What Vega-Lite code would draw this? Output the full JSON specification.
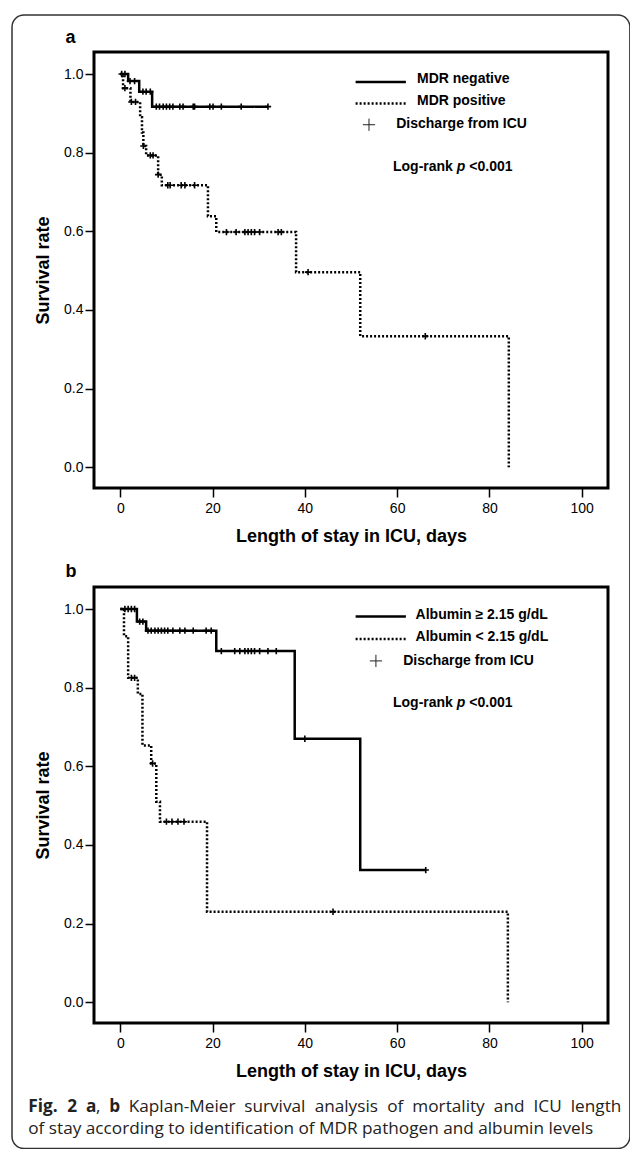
{
  "$schema": "https://vega.github.io/schema/vega-lite/v6.json",
  "padding": {"left": 9, "top": 12, "right": 1.5, "bottom": 0.5},
  "background": "white",
  "bounds": "flush",
  "spacing": 99,
  "config": {
    "view": {"stroke": "black", "strokeWidth": 3},
    "font": "Liberation Sans",
    "axis": {"domain": false, "grid": false, "tickColor": "black", "tickWidth": 1.5, "tickSize": 9, "labelColor": "black", "labelFont": "Liberation Sans", "labelFontSize": 14, "titleFont": "Liberation Sans", "titleFontSize": 18, "titleFontWeight": "bold", "titleColor": "black", "labelOverlap": false, "labelFlush": false},
    "axisX": {"labelPadding": 4, "titlePadding": 12},
    "axisY": {"labelPadding": 2, "titlePadding": 11}
  },
  "resolve": {"scale": {"x": "independent", "y": "independent", "strokeDash": "independent"}},
  "datasets": {
    "curves": [
      {"panel": "a", "series": "MDR negative", "x": 0, "y": 1},
      {"panel": "a", "series": "MDR negative", "x": 1.7, "y": 0.982},
      {"panel": "a", "series": "MDR negative", "x": 4.1, "y": 0.955},
      {"panel": "a", "series": "MDR negative", "x": 6.9, "y": 0.917},
      {"panel": "a", "series": "MDR negative", "x": 32.0, "y": 0.917},
      {"panel": "a", "series": "MDR positive", "x": 0, "y": 1},
      {"panel": "a", "series": "MDR positive", "x": 0.6, "y": 0.964},
      {"panel": "a", "series": "MDR positive", "x": 2.2, "y": 0.929},
      {"panel": "a", "series": "MDR positive", "x": 4.3, "y": 0.89},
      {"panel": "a", "series": "MDR positive", "x": 4.7, "y": 0.851},
      {"panel": "a", "series": "MDR positive", "x": 5.0, "y": 0.817},
      {"panel": "a", "series": "MDR positive", "x": 5.6, "y": 0.793},
      {"panel": "a", "series": "MDR positive", "x": 8.2, "y": 0.744},
      {"panel": "a", "series": "MDR positive", "x": 9.0, "y": 0.717},
      {"panel": "a", "series": "MDR positive", "x": 19.0, "y": 0.638},
      {"panel": "a", "series": "MDR positive", "x": 20.8, "y": 0.598},
      {"panel": "a", "series": "MDR positive", "x": 38.1, "y": 0.496},
      {"panel": "a", "series": "MDR positive", "x": 52.0, "y": 0.333},
      {"panel": "a", "series": "MDR positive", "x": 84.2, "y": 0.0},
      {"panel": "b", "series": "Albumin ≥ 2.15 g/dL", "x": 0, "y": 1},
      {"panel": "b", "series": "Albumin ≥ 2.15 g/dL", "x": 3.6, "y": 0.968},
      {"panel": "b", "series": "Albumin ≥ 2.15 g/dL", "x": 5.6, "y": 0.945},
      {"panel": "b", "series": "Albumin ≥ 2.15 g/dL", "x": 20.8, "y": 0.893},
      {"panel": "b", "series": "Albumin ≥ 2.15 g/dL", "x": 37.8, "y": 0.67},
      {"panel": "b", "series": "Albumin ≥ 2.15 g/dL", "x": 52.0, "y": 0.336},
      {"panel": "b", "series": "Albumin ≥ 2.15 g/dL", "x": 66.2, "y": 0.336},
      {"panel": "b", "series": "Albumin < 2.15 g/dL", "x": 0, "y": 1},
      {"panel": "b", "series": "Albumin < 2.15 g/dL", "x": 0.8, "y": 0.931},
      {"panel": "b", "series": "Albumin < 2.15 g/dL", "x": 1.7, "y": 0.825},
      {"panel": "b", "series": "Albumin < 2.15 g/dL", "x": 3.8, "y": 0.784},
      {"panel": "b", "series": "Albumin < 2.15 g/dL", "x": 4.8, "y": 0.653},
      {"panel": "b", "series": "Albumin < 2.15 g/dL", "x": 6.7, "y": 0.607},
      {"panel": "b", "series": "Albumin < 2.15 g/dL", "x": 7.8, "y": 0.51},
      {"panel": "b", "series": "Albumin < 2.15 g/dL", "x": 8.6, "y": 0.459},
      {"panel": "b", "series": "Albumin < 2.15 g/dL", "x": 18.8, "y": 0.23},
      {"panel": "b", "series": "Albumin < 2.15 g/dL", "x": 84.0, "y": 0.0}
    ],
    "censors": [
      {"panel": "a", "x": 0.3, "y": 1}, {"panel": "a", "x": 1.0, "y": 1},
      {"panel": "a", "x": 2.1, "y": 0.982}, {"panel": "a", "x": 3.1, "y": 0.982},
      {"panel": "a", "x": 4.9, "y": 0.955}, {"panel": "a", "x": 5.6, "y": 0.955}, {"panel": "a", "x": 6.5, "y": 0.955},
      {"panel": "a", "x": 7.8, "y": 0.917}, {"panel": "a", "x": 8.5, "y": 0.917}, {"panel": "a", "x": 9.3, "y": 0.917},
      {"panel": "a", "x": 10.0, "y": 0.917}, {"panel": "a", "x": 10.7, "y": 0.917}, {"panel": "a", "x": 11.4, "y": 0.917},
      {"panel": "a", "x": 12.9, "y": 0.917}, {"panel": "a", "x": 13.6, "y": 0.917}, {"panel": "a", "x": 15.8, "y": 0.917},
      {"panel": "a", "x": 16.1, "y": 0.917}, {"panel": "a", "x": 19.4, "y": 0.917}, {"panel": "a", "x": 20.1, "y": 0.917},
      {"panel": "a", "x": 21.9, "y": 0.917}, {"panel": "a", "x": 26.2, "y": 0.917}, {"panel": "a", "x": 32.0, "y": 0.917},
      {"panel": "a", "x": 1.0, "y": 0.964},
      {"panel": "a", "x": 2.4, "y": 0.929}, {"panel": "a", "x": 3.3, "y": 0.929},
      {"panel": "a", "x": 5.0, "y": 0.817},
      {"panel": "a", "x": 6.5, "y": 0.793}, {"panel": "a", "x": 7.1, "y": 0.793},
      {"panel": "a", "x": 8.2, "y": 0.744},
      {"panel": "a", "x": 10.3, "y": 0.717}, {"panel": "a", "x": 10.8, "y": 0.717}, {"panel": "a", "x": 13.2, "y": 0.717},
      {"panel": "a", "x": 14.0, "y": 0.717}, {"panel": "a", "x": 16.1, "y": 0.717},
      {"panel": "a", "x": 23.0, "y": 0.598}, {"panel": "a", "x": 25.1, "y": 0.598}, {"panel": "a", "x": 27.0, "y": 0.598},
      {"panel": "a", "x": 27.7, "y": 0.598}, {"panel": "a", "x": 28.4, "y": 0.598}, {"panel": "a", "x": 29.1, "y": 0.598},
      {"panel": "a", "x": 30.2, "y": 0.598}, {"panel": "a", "x": 34.2, "y": 0.598}, {"panel": "a", "x": 34.9, "y": 0.598},
      {"panel": "a", "x": 40.7, "y": 0.496},
      {"panel": "a", "x": 66.1, "y": 0.333},
      {"panel": "b", "x": 1.0, "y": 1}, {"panel": "b", "x": 1.7, "y": 1}, {"panel": "b", "x": 2.4, "y": 1}, {"panel": "b", "x": 3.1, "y": 1},
      {"panel": "b", "x": 4.2, "y": 0.968}, {"panel": "b", "x": 4.9, "y": 0.968},
      {"panel": "b", "x": 6.0, "y": 0.945}, {"panel": "b", "x": 6.7, "y": 0.945}, {"panel": "b", "x": 7.5, "y": 0.945},
      {"panel": "b", "x": 8.2, "y": 0.945}, {"panel": "b", "x": 8.9, "y": 0.945}, {"panel": "b", "x": 9.6, "y": 0.945},
      {"panel": "b", "x": 10.3, "y": 0.945}, {"panel": "b", "x": 11.4, "y": 0.945}, {"panel": "b", "x": 12.9, "y": 0.945},
      {"panel": "b", "x": 14.0, "y": 0.945}, {"panel": "b", "x": 15.8, "y": 0.945}, {"panel": "b", "x": 18.6, "y": 0.945},
      {"panel": "b", "x": 19.7, "y": 0.945},
      {"panel": "b", "x": 21.9, "y": 0.893}, {"panel": "b", "x": 24.8, "y": 0.893}, {"panel": "b", "x": 25.9, "y": 0.893},
      {"panel": "b", "x": 27.0, "y": 0.893}, {"panel": "b", "x": 27.7, "y": 0.893}, {"panel": "b", "x": 28.4, "y": 0.893},
      {"panel": "b", "x": 29.1, "y": 0.893}, {"panel": "b", "x": 30.2, "y": 0.893}, {"panel": "b", "x": 32.0, "y": 0.893},
      {"panel": "b", "x": 33.8, "y": 0.893},
      {"panel": "b", "x": 40.0, "y": 0.67},
      {"panel": "b", "x": 66.2, "y": 0.336},
      {"panel": "b", "x": 2.4, "y": 0.825}, {"panel": "b", "x": 3.1, "y": 0.825},
      {"panel": "b", "x": 7.0, "y": 0.607},
      {"panel": "b", "x": 10.0, "y": 0.459}, {"panel": "b", "x": 11.2, "y": 0.459}, {"panel": "b", "x": 12.5, "y": 0.459}, {"panel": "b", "x": 13.8, "y": 0.459},
      {"panel": "b", "x": 46.1, "y": 0.23}
    ],
    "legendLines": [
      {"panel": "a", "series": "MDR negative", "x": 51.0, "x2": 61.9, "y": 0.98},
      {"panel": "a", "series": "MDR positive", "x": 51.0, "x2": 61.9, "y": 0.925},
      {"panel": "b", "series": "Albumin ≥ 2.15 g/dL", "x": 51.0, "x2": 61.9, "y": 0.981},
      {"panel": "b", "series": "Albumin < 2.15 g/dL", "x": 51.0, "x2": 61.9, "y": 0.924}
    ],
    "legendLabels": [
      {"panel": "a", "label": "MDR negative", "x": 64.3, "y": 0.987},
      {"panel": "a", "label": "MDR positive", "x": 64.3, "y": 0.931},
      {"panel": "a", "label": "Discharge from ICU", "x": 59.8, "y": 0.873},
      {"panel": "a", "label": "Log-rank", "x": 59.1, "y": 0.763},
      {"panel": "a", "label": "<0.001", "x": 75.64, "y": 0.763},
      {"panel": "b", "label": "Albumin ≥ 2.15 g/dL", "x": 64.0, "y": 0.986},
      {"panel": "b", "label": "Albumin < 2.15 g/dL", "x": 64.0, "y": 0.929},
      {"panel": "b", "label": "Discharge from ICU", "x": 61.3, "y": 0.868},
      {"panel": "b", "label": "Log-rank", "x": 59.1, "y": 0.761},
      {"panel": "b", "label": "<0.001", "x": 75.64, "y": 0.761}
    ],
    "italicLabels": [
      {"panel": "a", "label": "p", "x": 72.93, "y": 0.763},
      {"panel": "b", "label": "p", "x": 72.93, "y": 0.761}
    ],
    "legendSymbol": [
      {"panel": "a", "x": 53.9, "y": 0.871},
      {"panel": "b", "x": 55.4, "y": 0.868}
    ],
    "panelLetters": [
      {"panel": "a", "label": "a", "x": -11.9, "y": 1.08},
      {"panel": "b", "label": "b", "x": -11.9, "y": 1.082}
    ]
  },
  "vconcat": [
    {
      "width": 514,
      "height": 436,
      "encoding": {
        "x": {"field": "x", "type": "quantitative", "scale": {"domain": [-5.7, 105.7], "nice": false, "zero": false}, "axis": {"values": [0, 20, 40, 60, 80, 100]}, "title": "Length of stay in ICU, days"},
        "y": {"field": "y", "type": "quantitative", "scale": {"domain": [-0.053, 1.056], "nice": false, "zero": false}, "axis": {"values": [0, 0.2, 0.4, 0.6, 0.8, 1.0], "format": ".1f"}, "title": "Survival rate"}
      },
      "layer": [
        {
          "data": {"values": [{"x": -23.47, "x2": 110.44, "y": 1.15, "y2": -1.733}]},
          "mark": {"type": "rect", "filled": false, "color": "#333333", "strokeWidth": 1.5, "cornerRadius": 12, "clip": false},
          "encoding": {"x2": {"field": "x2"}, "y2": {"field": "y2"}}
        },
        {
          "data": {"name": "curves"},
          "transform": [{"filter": "datum.panel === 'a'"}],
          "mark": {"type": "line", "interpolate": "step-after", "strokeWidth": 2.5, "color": "black", "strokeCap": "butt"},
          "encoding": {"strokeDash": {"field": "series", "type": "nominal", "scale": {"domain": ["MDR negative", "MDR positive"], "range": [[1, 0], [2, 2]]}, "legend": null}}
        },
        {
          "data": {"name": "censors"},
          "transform": [{"filter": "datum.panel === 'a'"}],
          "mark": {"type": "point", "shape": "M-1,0L1,0M0,-1L0,1", "size": 40, "filled": false, "strokeWidth": 1.6, "color": "black", "opacity": 1}
        },
        {
          "data": {"name": "legendLines"},
          "transform": [{"filter": "datum.panel === 'a'"}],
          "mark": {"type": "rule", "strokeWidth": 2.5, "color": "black", "strokeCap": "butt"},
          "encoding": {"x2": {"field": "x2"}, "strokeDash": {"field": "series", "type": "nominal", "legend": null}}
        },
        {
          "data": {"name": "legendSymbol"},
          "transform": [{"filter": "datum.panel === 'a'"}],
          "mark": {"type": "point", "shape": "M-1,0L1,0M0,-1L0,1", "size": 150, "filled": false, "strokeWidth": 1, "color": "#222222", "opacity": 1}
        },
        {
          "data": {"name": "legendLabels"},
          "transform": [{"filter": "datum.panel === 'a'"}],
          "mark": {"type": "text", "align": "left", "baseline": "middle", "fontWeight": "bold", "fontSize": 14, "font": "Liberation Sans", "color": "black"},
          "encoding": {"text": {"field": "label"}}
        },
        {
          "data": {"name": "italicLabels"},
          "transform": [{"filter": "datum.panel === 'a'"}],
          "mark": {"type": "text", "align": "left", "baseline": "middle", "fontWeight": "bold", "fontStyle": "italic", "fontSize": 14, "font": "Liberation Sans", "color": "black"},
          "encoding": {"text": {"field": "label"}}
        },
        {
          "data": {"name": "panelLetters"},
          "transform": [{"filter": "datum.panel === 'a'"}],
          "mark": {"type": "text", "align": "left", "baseline": "alphabetic", "fontWeight": "bold", "fontSize": 18, "font": "Liberation Sans", "color": "black"},
          "encoding": {"text": {"field": "label"}}
        }
      ]
    },
    {
      "width": 514,
      "height": 436,
      "encoding": {
        "x": {"field": "x", "type": "quantitative", "scale": {"domain": [-5.7, 105.7], "nice": false, "zero": false}, "axis": {"values": [0, 20, 40, 60, 80, 100]}, "title": "Length of stay in ICU, days"},
        "y": {"field": "y", "type": "quantitative", "scale": {"domain": [-0.053, 1.056], "nice": false, "zero": false}, "axis": {"values": [0, 0.2, 0.4, 0.6, 0.8, 1.0], "format": ".1f"}, "title": "Survival rate"}
      },
      "layer": [
        {
          "data": {"name": "curves"},
          "transform": [{"filter": "datum.panel === 'b'"}],
          "mark": {"type": "line", "interpolate": "step-after", "strokeWidth": 2.5, "color": "black", "strokeCap": "butt"},
          "encoding": {"strokeDash": {"field": "series", "type": "nominal", "scale": {"domain": ["Albumin ≥ 2.15 g/dL", "Albumin < 2.15 g/dL"], "range": [[1, 0], [2, 2]]}, "legend": null}}
        },
        {
          "data": {"name": "censors"},
          "transform": [{"filter": "datum.panel === 'b'"}],
          "mark": {"type": "point", "shape": "M-1,0L1,0M0,-1L0,1", "size": 40, "filled": false, "strokeWidth": 1.6, "color": "black", "opacity": 1}
        },
        {
          "data": {"name": "legendLines"},
          "transform": [{"filter": "datum.panel === 'b'"}],
          "mark": {"type": "rule", "strokeWidth": 2.5, "color": "black", "strokeCap": "butt"},
          "encoding": {"x2": {"field": "x2"}, "strokeDash": {"field": "series", "type": "nominal", "legend": null}}
        },
        {
          "data": {"name": "legendSymbol"},
          "transform": [{"filter": "datum.panel === 'b'"}],
          "mark": {"type": "point", "shape": "M-1,0L1,0M0,-1L0,1", "size": 150, "filled": false, "strokeWidth": 1, "color": "#222222", "opacity": 1}
        },
        {
          "data": {"name": "legendLabels"},
          "transform": [{"filter": "datum.panel === 'b'"}],
          "mark": {"type": "text", "align": "left", "baseline": "middle", "fontWeight": "bold", "fontSize": 14, "font": "Liberation Sans", "color": "black"},
          "encoding": {"text": {"field": "label"}}
        },
        {
          "data": {"name": "italicLabels"},
          "transform": [{"filter": "datum.panel === 'b'"}],
          "mark": {"type": "text", "align": "left", "baseline": "middle", "fontWeight": "bold", "fontStyle": "italic", "fontSize": 14, "font": "Liberation Sans", "color": "black"},
          "encoding": {"text": {"field": "label"}}
        },
        {
          "data": {"name": "panelLetters"},
          "transform": [{"filter": "datum.panel === 'b'"}],
          "mark": {"type": "text", "align": "left", "baseline": "alphabetic", "fontWeight": "bold", "fontSize": 18, "font": "Liberation Sans", "color": "black"},
          "encoding": {"text": {"field": "label"}}
        },
        {
          "data": {"values": [
            {"label": "Fig.", "x": -19.95, "y": -0.2665},
            {"label": "2", "x": -11.52, "y": -0.2665},
            {"label": "a", "x": -7.44, "y": -0.2665},
            {"label": "b", "x": -2.42, "y": -0.2665}
          ]},
          "mark": {"type": "text", "align": "left", "baseline": "middle", "fontWeight": "bold", "fontSize": 17.2, "font": "Open Sans", "color": "#222222"},
          "encoding": {"text": {"field": "label"}}
        },
        {
          "data": {"values": [
            {"label": ",", "x": -5.26, "y": -0.2665},
            {"label": "Kaplan-Meier", "x": 1.83, "y": -0.2665},
            {"label": "survival", "x": 26.86, "y": -0.2665},
            {"label": "analysis", "x": 42.12, "y": -0.2665},
            {"label": "of", "x": 57.86, "y": -0.2665},
            {"label": "mortality", "x": 63.3, "y": -0.2665},
            {"label": "and", "x": 80.96, "y": -0.2665},
            {"label": "ICU", "x": 89.56, "y": -0.2665},
            {"label": "length", "x": 97.63, "y": -0.2665},
            {"label": "of stay according to identification of MDR pathogen and albumin levels", "x": -19.95, "y": -0.3223}
          ]},
          "mark": {"type": "text", "align": "left", "baseline": "middle", "fontSize": 17.2, "font": "Open Sans", "color": "#222222"},
          "encoding": {"text": {"field": "label"}}
        }
      ]
    }
  ]
}
